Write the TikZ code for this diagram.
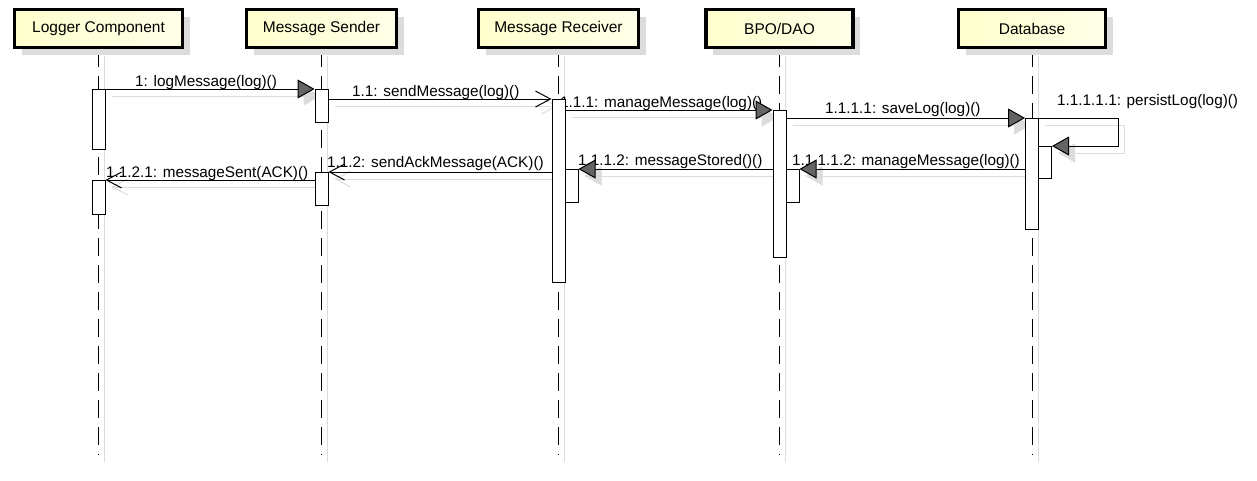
\documentclass[tikz,border=0pt]{standalone}
\usepackage{fontspec}
\setmainfont{Liberation Sans}
\usetikzlibrary{arrows.meta,shadows}

\definecolor{cabecera}{RGB}{255,255,205}
\definecolor{gris}{RGB}{220,220,220}
\definecolor{punta}{RGB}{100,100,100}

\pgfdeclarelayer{fondo}
\pgfsetlayers{fondo,main}

\tikzset{
  cabeza/.style={draw, line width=3.2pt, left color=cabecera, right color=cabecera!45,
    minimum height=38pt, inner sep=0pt, font=\fontsize{15.5}{18}\selectfont,
    general shadow={fill=gris, shadow xshift=7pt, shadow yshift=-7pt}},
  vida/.style={line width=0.9pt, dash pattern=on 18pt off 9pt},
  act/.style={draw, fill=white, line width=1pt, minimum width=13pt, inner sep=0pt, anchor=north},
  msg/.style={line width=1pt},
  llena/.style={-{Triangle[length=17pt,width=19pt,fill=#1]}},
  llena/.default=punta,
  abierta/.style={-{Straight Barb[length=15pt,width=16pt]}},
  sombra/.style={draw=gris, line width=1pt, transform canvas={shift={(6,7)}}},
  etiqueta/.style={font=\fontsize{15.3}{18}\selectfont, inner sep=0pt, anchor=base west}
}

\begin{document}
\begin{tikzpicture}[x=1pt,y=-1pt]
\useasboundingbox (0,0) rectangle (1257,480);
\begin{pgfonlayer}{fondo}
  \fill[white] (0,0) rectangle (1257,480);
\end{pgfonlayer}

% Cabeceras
\node[cabeza, minimum width=168pt] (log)  at (98.5,28.5) {Logger Component};
\node[cabeza, minimum width=150pt] (send) at (321.5,28.5) {Message Sender};
\node[cabeza, minimum width=160pt] (recv) at (558.5,28.5) {Message Receiver};
\node[cabeza, minimum width=147pt] (bpo)  at (779.5,28.5) {BPO/DAO};
\node[cabeza, minimum width=147pt] (db)   at (1032,28.5) {Database};
\coordinate (fin) at (0,455);

% Lineas de vida
\begin{pgfonlayer}{fondo}
	\foreach \n in {log,send,recv,bpo,db}{
		\draw[sombra] (\n.south) -- (\n.south |- fin);
		\draw[vida] (\n.south) -- (\n.south |- fin);
	}

	\node[etiqueta] (m1) at (135,86) {1: logMessage(log)()};
	\node[etiqueta] (m2) at (352,96) {1.1: sendMessage(log)()};
	\node[etiqueta] (m3) at (560,107) {1.1.1: manageMessage(log)()};
	\node[etiqueta] (m4) at (825,113) {1.1.1.1: saveLog(log)()};
	\node[etiqueta] (m5) at (1057,105) {1.1.1.1.1: persistLog(log)()};
	\node[etiqueta] (m6) at (792,165) {1.1.1.1.2: manageMessage(log)()};
	\node[etiqueta] (m7) at (578,165) {1.1.1.2: messageStored()()};
	\node[etiqueta] (m8) at (327,167) {1.1.2: sendAckMessage(ACK)()};
	\node[etiqueta] (m9) at (106,177) {1.1.2.1: messageSent(ACK)()};
\end{pgfonlayer}

% Activaciones
\node[act, minimum height=60pt]  (logA)  at (98.5,89) {};
\node[act, minimum height=34pt]  (logB)  at (98.5,180) {};
\node[act, minimum height=33pt]  (sendA) at (321.5,89) {};
\node[act, minimum height=33pt]  (sendB) at (321.5,172) {};
\node[act, minimum height=183pt] (recvA) at (558.5,99) {};
\node[act, minimum height=33pt]  (recvB) at (571.5,169) {};
\node[act, minimum height=147pt] (bpoA)  at (779.5,110) {};
\node[act, minimum height=33pt]  (bpoB)  at (792.5,169) {};
\node[act, minimum height=111pt] (dbA)   at (1032,118) {};
\node[act, minimum height=32pt]  (dbB)   at (1045,146) {};

% Mensajes
\foreach \a/\b/\p in {logA.north east/sendA.north west/llena,
		sendA.east |- recvA.north/recvA.north west/abierta,
		recvA.east |- bpoA.north/bpoA.north west/llena,
		bpoA.east |- dbA.north/dbA.north west/llena,
		dbA.west |- bpoB.north/bpoB.north east/llena,
		bpoA.west |- recvB.north/recvB.north east/llena,
		recvA.west |- sendB.north/sendB.north east/abierta,
		sendB.west |- logB.north/logB.north east/abierta}{
	\begin{pgfonlayer}{fondo}
		\draw[sombra, \p=gris] (\a) -- (\b);
	\end{pgfonlayer}
	\draw[msg, \p] (\a) -- (\b);
}

\begin{pgfonlayer}{fondo}
	\draw[sombra, llena=gris] (dbA.north east) -- ++(79,0) |- (dbB.north east);
\end{pgfonlayer}
\draw[msg, llena] (dbA.north east) -- ++(79,0) |- (dbB.north east);
\end{tikzpicture}
\end{document}
